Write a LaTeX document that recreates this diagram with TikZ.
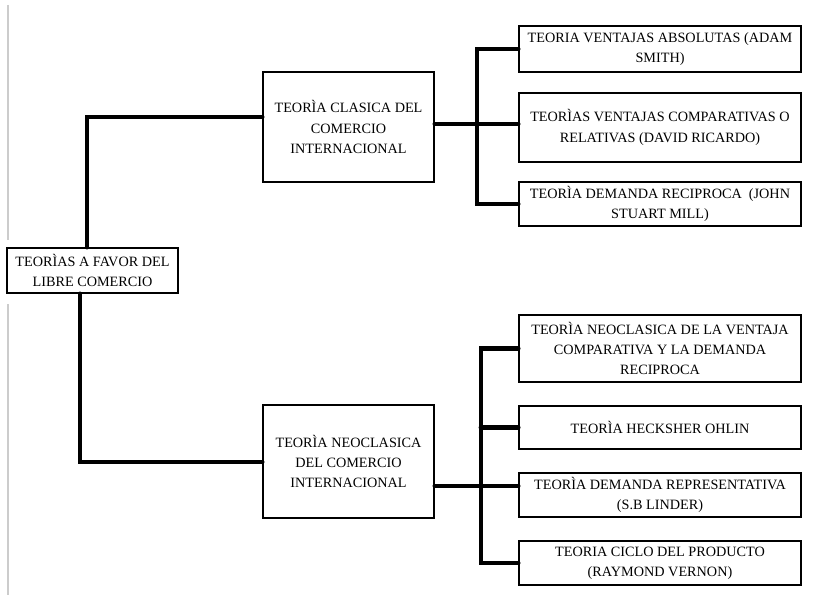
\documentclass[tikz,border=0pt]{standalone}
\usepackage{fontspec}
\setmainfont{Liberation Serif}

\begin{document}
\begin{tikzpicture}[x=0.02cm,y=-0.02cm,
	box/.style={draw,line width=1.1pt,align=center,inner sep=0pt,font=\fontsize{8.1}{11.6}\selectfont},
	leftbox/.style={box,minimum width=3.42cm},
	rightbox/.style={box,minimum width=5.64cm},
	link/.style={line width=2.8pt,line cap=round}]
	\useasboundingbox (0,0) rectangle (817,601);
	%Page edge
		\draw [black!20,line width=0.6pt] (8,5) -- (8,240);
		\draw [black!20,line width=0.6pt] (8,304) -- (8,595);
	%Left column
		%Root
		\node [leftbox,minimum height=0.9cm] (libre) at (92.5,270.5) {TEORÌAS A FAVOR DEL\\LIBRE COMERCIO};
		%Classical theory
		\node [leftbox,minimum height=2.2cm] (clasica) at (348.5,127) {TEORÌA CLASICA DEL\\COMERCIO\\INTERNACIONAL};
		%Neoclassical theory
		\node [leftbox,minimum height=2.26cm] (neo) at (348.5,461.5) {TEORÌA NEOCLASICA\\DEL COMERCIO\\INTERNACIONAL};
	%Top right
		\node [rightbox,minimum height=0.92cm] (absolutas) at (660,49) {TEORIA VENTAJAS ABSOLUTAS (ADAM\\SMITH)};
		\node [rightbox,minimum height=1.38cm] (comparativas) at (660,127.5) {TEORÌAS VENTAJAS COMPARATIVAS O\\RELATIVAS (DAVID RICARDO)};
		\node [rightbox,minimum height=0.88cm] (reciproca) at (660,204) {TEORÌA DEMANDA RECIPROCA \ (JOHN\\STUART MILL)};
	%Bottom right
		\node [rightbox,minimum height=1.34cm] (ventaja) at (660,348.5) {TEORÌA NEOCLASICA DE LA VENTAJA\\COMPARATIVA Y LA DEMANDA\\RECIPROCA};
		\node [rightbox,minimum height=0.86cm] (heckscher) at (660,427.5) {TEORÌA HECKSHER OHLIN};
		\node [rightbox,minimum height=0.88cm] (linder) at (660,495) {TEORÌA DEMANDA REPRESENTATIVA\\(S.B LINDER)};
		\node [rightbox,minimum height=0.88cm] (vernon) at (660,563) {TEORIA CICLO DEL PRODUCTO\\(RAYMOND VERNON)};
	%Bends
		\coordinate (upbend) at (87,117);
		\coordinate (lowbend) at (80,462);
		\coordinate (topbar) at (477,124);
		\coordinate (lowbar) at (481,486);
	%Root to both theories
		\draw [link] (libre.north -| upbend) -- (upbend) -- (clasica.west |- upbend);
		\draw [link] (libre.south -| lowbend) -- (lowbend) -- (neo.west |- lowbend);
	%Classical branches
		\draw [link] (clasica.east |- topbar) -- (comparativas.west |- topbar);
		\draw [link] (absolutas.west) -- (absolutas.west -| topbar) -- (reciproca.west -| topbar) -- (reciproca.west);
	%Neoclassical branches
		\draw [link] (neo.east |- lowbar) -- (linder.west |- lowbar);
		\draw [link] (ventaja.west) -- (ventaja.west -| lowbar) -- (vernon.west -| lowbar) -- (vernon.west);
		\draw [link] (heckscher.west -| lowbar) -- (heckscher.west);
\end{tikzpicture}
\end{document}
